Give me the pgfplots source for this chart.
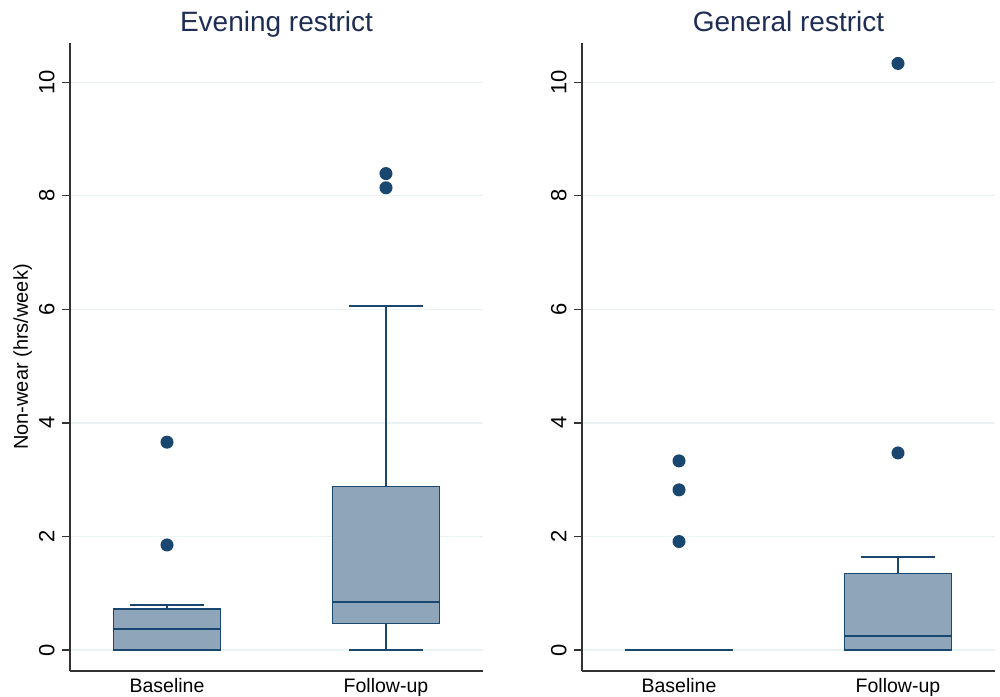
\documentclass[border=0pt]{standalone}
\usepackage{pgfplots}
\pgfplotsset{compat=1.18}
\usepgfplotslibrary{statistics}
\usepackage{fontspec}
\setmainfont{Liberation Sans}
\definecolor{navy}{HTML}{1A476F}
\definecolor{boxfill}{HTML}{8FA5B9}
\definecolor{gridc}{HTML}{EAF2F3}
\definecolor{titlec}{HTML}{1E2D53}
\definecolor{axc}{HTML}{333333}
\begin{document}
\begin{tikzpicture}
\path[use as bounding box] (0,0) rectangle (1000pt,696pt);
\pgfplotsset{
  panel/.style={
    scale only axis, width=413pt, height=628pt,
    xmin=0.557, xmax=2.443, ymin=-0.37, ymax=10.69,
    axis lines=left, axis line style={-, line width=1.3pt, draw=axc},
    xtick={1,2}, xticklabels={Baseline,Follow-up},
    xtick style={draw=none},
    ytick={0,2,4,6,8,10},
    ytick style={line width=1.3pt, draw=axc},
    tick align=outside, major tick length=8pt,
    ymajorgrids, grid style={gridc, line width=1.3pt},
    yticklabel style={rotate=90, anchor=south, yshift=4pt, font=\fontsize{22}{24}\selectfont},
    xticklabel style={font=\fontsize{19.5}{21}\selectfont, yshift=4pt},
    /pgf/number format/assume math mode=true,
    title style={font=\fontsize{28}{32}\selectfont, text=titlec,
      at={(0.5,1)}, anchor=base, yshift=5pt, inner sep=0pt},
    ylabel style={font=\fontsize{20}{22}\selectfont},
    boxplot/draw direction=y,
    boxplot/box extend=0.49, boxplot/whisker extend=0.34,
    every axis plot/.append style={draw=navy, line width=1.6pt, fill=boxfill,
      mark=*, mark size=5.7pt, mark options={solid, fill=navy, draw=none}},
  },
}
\begin{axis}[panel, at={(70pt,25pt)}, anchor=south west,
  title={Evening restrict}, ylabel={Non-wear (hrs/week)}]
\addplot[boxplot prepared={lower whisker=0, lower quartile=0, median=0.37,
  upper quartile=0.72, upper whisker=0.79, draw position=1}]
  table[row sep=\\, y index=0] {y\\ 3.66\\ 1.85\\};
\addplot[boxplot prepared={lower whisker=0, lower quartile=0.47, median=0.84,
  upper quartile=2.88, upper whisker=6.06, draw position=2}]
  table[row sep=\\, y index=0] {y\\ 8.39\\ 8.14\\};
\end{axis}
\begin{axis}[panel, at={(582pt,25pt)}, anchor=south west,
  title={General restrict}]
\addplot[boxplot prepared={lower whisker=0, lower quartile=0, median=0,
  upper quartile=0, upper whisker=0, draw position=1}]
  table[row sep=\\, y index=0] {y\\ 3.33\\ 2.82\\ 1.91\\};
\addplot[boxplot prepared={lower whisker=0, lower quartile=0, median=0.25,
  upper quartile=1.35, upper whisker=1.64, draw position=2}]
  table[row sep=\\, y index=0] {y\\ 3.47\\ 10.33\\};
\end{axis}
\end{tikzpicture}
\end{document}
